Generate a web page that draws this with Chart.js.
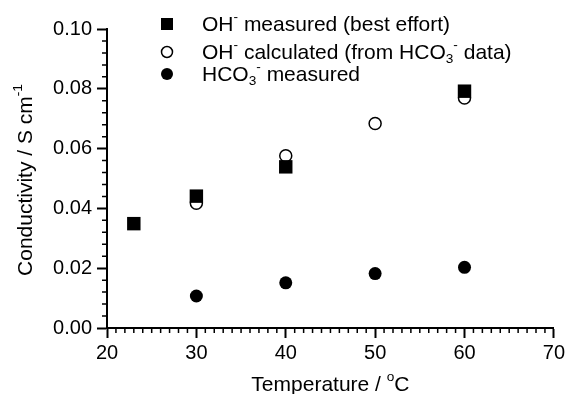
<!DOCTYPE html>
<html lang="en">
<head>
    <meta charset="UTF-8">
    <title>Conductivity vs Temperature</title>
    <script src="https://cdn.jsdelivr.net/npm/chart.js"></script>
    <style>
        body { margin: 0; background: #fff; }
        #chart { display: block; }
    </style>
</head>
<body>
    <canvas id="chart" width="568" height="394"></canvas>
    <script>
        // data
        const tempOHmeas = [23, 30, 40, 60];
        const condOHmeas = [0.0349, 0.0441, 0.0539, 0.0792];
        const tempOHcalc = [30, 40, 50, 60];
        const condOHcalc = [0.0417, 0.0576, 0.0684, 0.0769];
        const tempHCO3 = [30, 40, 50, 60];
        const condHCO3 = [0.0107, 0.0151, 0.0182, 0.0203];

        const xMin = 20, xMax = 70, xStep = 10, xMinorStep = 1;
        const yMin = 0, yMax = 0.10, yStep = 0.02, yMinorStep = 0.004;

        const FONT = '"Liberation Sans", Arial, sans-serif';
        const TEXT_SIZE = 21;

        function pts(xs, ys) {
            return xs.map((x, i) => ({ x: x, y: ys[i] }));
        }

        // draws text made of parts, some raised (sup) or lowered (sub)
        function richText(ctx, parts, x, y, size) {
            let cx = x;
            parts.forEach(p => {
                let s = size, dy = 0;
                if (p.sup) { s = size * 0.65; dy = -size * 0.38; }
                if (p.sub) { s = size * 0.65; dy = size * 0.3; }
                ctx.font = s + 'px ' + FONT;
                ctx.fillText(p.t, cx, y + dy);
                cx += ctx.measureText(p.t).width;
            });
            return cx - x;
        }
        function richWidth(ctx, parts, size) {
            let w = 0;
            parts.forEach(p => {
                const s = (p.sup || p.sub) ? size * 0.65 : size;
                ctx.font = s + 'px ' + FONT;
                w += ctx.measureText(p.t).width;
            });
            return w;
        }

        const legendRows = [
            { marker: 'square', y: 25, parts: [{ t: 'OH' }, { t: '-', sup: true }, { t: ' measured (best effort)' }] },
            { marker: 'open', y: 53, parts: [{ t: 'OH' }, { t: '-', sup: true }, { t: ' calculated (from HCO' }, { t: '3', sub: true }, { t: '-', sup: true }, { t: ' data)' }] },
            { marker: 'dot', y: 75, parts: [{ t: 'HCO' }, { t: '3', sub: true }, { t: '-', sup: true }, { t: ' measured' }] }
        ];
        const yTitle = [{ t: 'Conductivity / S cm' }, { t: '-1', sup: true }];
        const xTitle = [{ t: 'Temperature / ' }, { t: 'o', sup: true }, { t: 'C' }];

        const extras = {
            id: 'extras',
            afterDraw(chart) {
                const ctx = chart.ctx;
                const xs = chart.scales.x, ys = chart.scales.y;
                const area = chart.chartArea;
                ctx.save();
                // minor ticks
                ctx.strokeStyle = '#000';
                ctx.lineWidth = 1.5;
                ctx.beginPath();
                for (let v = xMin; v <= xMax + 1e-9; v += xMinorStep) {
                    if (Math.abs(v % xStep) < 1e-9) continue;
                    const px = xs.getPixelForValue(v);
                    ctx.moveTo(px, area.bottom);
                    ctx.lineTo(px, area.bottom + 5);
                }
                for (let i = 0; i * yMinorStep <= yMax + 1e-9; i++) {
                    if (i % 5 === 0) continue;
                    const py = ys.getPixelForValue(i * yMinorStep);
                    ctx.moveTo(area.left, py);
                    ctx.lineTo(area.left - 5, py);
                }
                ctx.stroke();

                // legend
                ctx.fillStyle = '#000';
                ctx.textBaseline = 'middle';
                ctx.textAlign = 'left';
                legendRows.forEach(r => {
                    const mx = 167, my = r.y - 1;
                    ctx.beginPath();
                    if (r.marker === 'square') {
                        ctx.fillRect(mx - 6, my - 6, 12, 12);
                    } else if (r.marker === 'open') {
                        ctx.arc(mx, my, 5.5, 0, Math.PI * 2);
                        ctx.lineWidth = 1.5;
                        ctx.stroke();
                    } else {
                        ctx.arc(mx, my, 6, 0, Math.PI * 2);
                        ctx.fill();
                    }
                    richText(ctx, r.parts, 202, r.y, TEXT_SIZE);
                });

                // axis titles
                const xw = richWidth(ctx, xTitle, TEXT_SIZE);
                richText(ctx, xTitle, (area.left + area.right) / 2 - xw / 2, 385, TEXT_SIZE);
                ctx.translate(26, (area.top + area.bottom) / 2 + 1.5);
                ctx.rotate(-Math.PI / 2);
                const yw = richWidth(ctx, yTitle, TEXT_SIZE);
                richText(ctx, yTitle, -yw / 2, 0, TEXT_SIZE);
                ctx.restore();
            }
        };

        new Chart(document.getElementById('chart'), {
            type: 'scatter',
            data: {
                datasets: [{
                    label: 'OH- measured (best effort)',
                    data: pts(tempOHmeas, condOHmeas),
                    pointStyle: 'rect',
                    pointRadius: 9.5,
                    backgroundColor: '#000',
                    borderWidth: 0
                }, {
                    label: 'OH- calculated (from HCO3- data)',
                    data: pts(tempOHcalc, condOHcalc),
                    pointStyle: 'circle',
                    pointRadius: 6,
                    backgroundColor: '#fff',
                    borderColor: '#000',
                    borderWidth: 1.5
                }, {
                    label: 'HCO3- measured',
                    data: pts(tempHCO3, condHCO3),
                    pointStyle: 'circle',
                    pointRadius: 6.5,
                    backgroundColor: '#000',
                    borderWidth: 0
                }]
            },
            options: {
                responsive: false,
                animation: false,
                layout: { padding: { left: 0, top: 29, right: 12, bottom: 0 } },
                plugins: {
                    legend: { display: false },
                    tooltip: { enabled: false }
                },
                scales: {
                    x: {
                        type: 'linear',
                        min: xMin,
                        max: xMax,
                        afterFit(s) { s.height = 66; },
                        border: { display: true, color: '#000', width: 2 },
                        grid: { drawOnChartArea: false, color: '#000', tickLength: 10, tickWidth: 2 },
                        ticks: {
                            stepSize: xStep,
                            color: '#000',
                            padding: 3,
                            font: { family: FONT, size: 20 }
                        }
                    },
                    y: {
                        min: yMin,
                        max: yMax,
                        afterFit(s) { s.width = 107; },
                        border: { display: true, color: '#000', width: 2 },
                        grid: { drawOnChartArea: false, color: '#000', tickLength: 10, tickWidth: 2 },
                        ticks: {
                            stepSize: yStep,
                            color: '#000',
                            padding: 5,
                            font: { family: FONT, size: 20 },
                            callback: v => v.toFixed(2)
                        }
                    }
                }
            },
            plugins: [extras]
        });
    </script>
</body>
</html>
